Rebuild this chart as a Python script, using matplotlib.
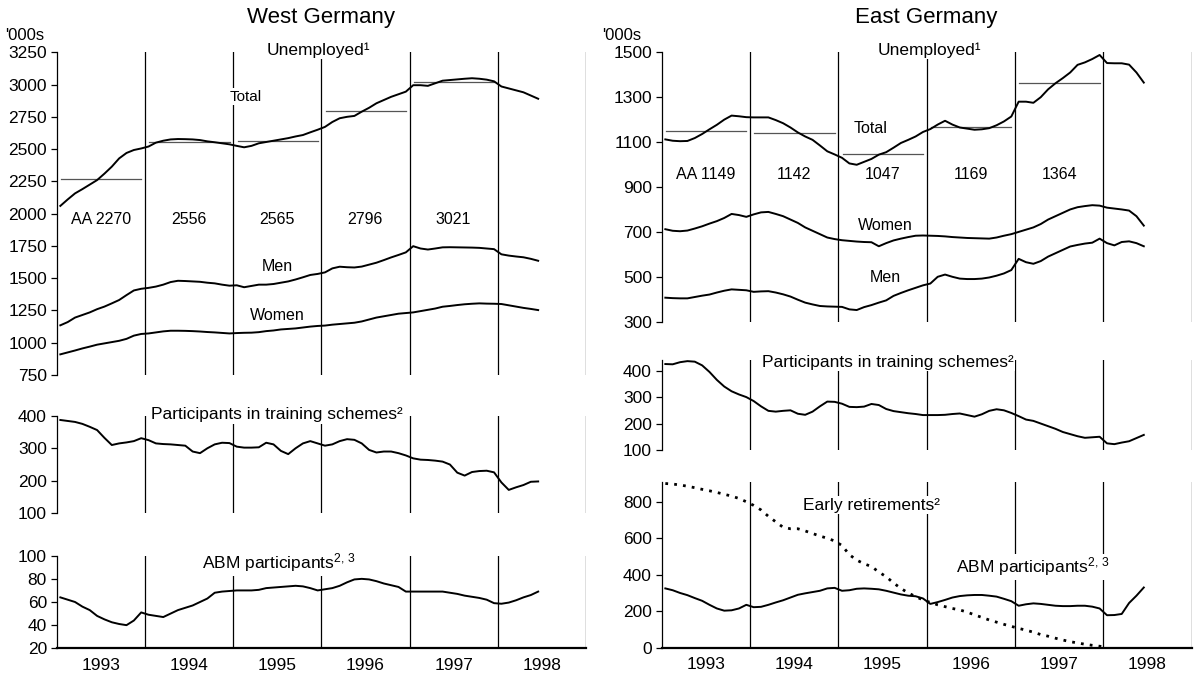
import matplotlib.pyplot as plt
import numpy as np

plt.rcParams['font.family'] = ['Liberation Sans', 'DejaVu Sans']
plt.rcParams['mathtext.fontset'] = 'custom'
plt.rcParams['mathtext.rm'] = 'Liberation Sans'
plt.rcParams['mathtext.it'] = 'Liberation Sans'

# month index 0 = January 1993, 65 = June 1998
months = np.arange(66)
years = [1993, 1994, 1995, 1996, 1997, 1998]
aa_years = [1993, 1994, 1995, 1996, 1997]
aa_west = [2270, 2556, 2565, 2796, 3021]
aa_east = [1149, 1142, 1047, 1169, 1364]

west_total = [2060, 2110, 2157, 2190, 2225, 2260, 2310, 2364, 2428, 2470, 2493, 2505,
              2520, 2550, 2565, 2575, 2578, 2577, 2575, 2570, 2560, 2553, 2545, 2537,
              2525, 2514, 2525, 2545, 2555, 2565, 2575, 2585, 2598, 2609, 2630, 2650,
              2672, 2710, 2739, 2750, 2757, 2790, 2820, 2855, 2880, 2905, 2925, 2945,
              2995, 2995, 2990, 3010, 3030, 3035, 3040, 3045, 3049, 3045, 3038, 3025,
              2985, 2970, 2955, 2940, 2915, 2890]
west_men = [1135, 1160, 1195, 1215, 1235, 1260, 1280, 1305, 1331, 1369, 1405, 1418,
            1425, 1435, 1450, 1470, 1480, 1478, 1475, 1472, 1465, 1460, 1450, 1442,
            1445, 1430, 1440, 1450, 1450, 1455, 1465, 1475, 1490, 1507, 1525, 1533,
            1545, 1576, 1589, 1585, 1583, 1590, 1605, 1620, 1640, 1661, 1680, 1700,
            1748, 1730, 1722, 1730, 1739, 1740, 1739, 1738, 1737, 1735, 1730, 1725,
            1685, 1675, 1668, 1662, 1650, 1635]
west_women = [910, 925, 940, 956, 970, 985, 995, 1005, 1015, 1030, 1055, 1068,
              1072, 1080, 1088, 1093, 1093, 1092, 1090, 1087, 1083, 1080, 1076, 1072,
              1075, 1077, 1078, 1082, 1090, 1095, 1103, 1107, 1111, 1118, 1125, 1130,
              1133, 1140, 1145, 1150, 1155, 1165, 1180, 1195, 1205, 1215, 1225, 1230,
              1235, 1245, 1255, 1265, 1279, 1285, 1292, 1298, 1302, 1305, 1303, 1302,
              1300, 1290, 1280, 1270, 1262, 1253]
west_training = [387, 384, 381, 375, 366, 356, 332, 310, 315, 318, 322, 331,
                 325, 315, 313, 312, 310, 308, 290, 285, 300, 312, 317, 316,
                 305, 302, 302, 303, 317, 312, 292, 282, 300, 315, 322, 315,
                 308, 312, 322, 328, 326, 315, 295, 287, 290, 290, 285, 278,
                 269, 265, 264, 262, 259, 250, 225, 216, 227, 230, 231, 226,
                 195, 172, 180, 187, 197, 198]
west_abm = [64, 62, 60, 56, 53, 48, 45, 42.5, 41, 40, 44, 51,
            49, 48, 47, 50, 53, 55, 57, 60, 63, 68, 69, 69.5,
            70, 70, 70, 70.5, 72, 72.5, 73, 73.5, 74, 73.5, 72, 70,
            71, 72, 74, 77, 79.5, 80, 79.5, 78, 76, 74.5, 73, 69,
            69, 69, 69, 69, 69, 68, 67, 65.5, 64.5, 63.5, 62, 59,
            58.5, 59.5, 61.5, 64, 66, 69]

east_total = [1112, 1106, 1104, 1105, 1118, 1136, 1157, 1177, 1200, 1218, 1215, 1211,
              1210, 1210, 1210, 1198, 1184, 1165, 1143, 1125, 1110, 1085, 1059, 1045,
              1030, 1005, 999, 1012, 1025, 1044, 1055, 1075, 1096, 1110, 1125, 1145,
              1158, 1178, 1195, 1178, 1165, 1160, 1155, 1157, 1162, 1175, 1192, 1214,
              1280, 1280, 1275, 1300, 1335, 1362, 1385, 1410, 1444, 1455, 1470, 1488,
              1452, 1451, 1451, 1445, 1410, 1365]
east_women = [712, 705, 703, 706, 715, 725, 737, 748, 762, 780, 775, 767,
              778, 787, 789, 780, 770, 755, 740, 720, 705, 690, 675, 668,
              663, 660, 657, 655, 654, 636, 650, 662, 670, 677, 683, 684,
              683, 682, 680, 677, 675, 673, 672, 671, 670, 675, 683, 690,
              700, 710, 720, 735, 755, 770, 785, 800, 810, 815, 819, 817,
              808, 804, 800, 795, 770, 728]
east_men = [407, 405, 404, 404, 410, 416, 421, 430, 438, 444, 442, 440,
            433, 435, 436, 430, 422, 412, 398, 385, 377, 370, 368, 367,
            366, 355, 352, 365, 374, 385, 395, 415, 428, 440, 451, 462,
            470, 500, 510, 500, 492, 490, 490, 492, 497, 505, 515, 530,
            580, 565, 558, 570, 590, 605, 620, 635, 642, 648, 652, 670,
            650, 640, 655, 658, 650, 636]
east_training = [425, 424, 432, 436, 434, 420, 395, 365, 340, 322, 310, 300,
                 285, 265, 248, 245, 248, 250, 237, 233, 245, 265, 283, 282,
                 275, 263, 262, 264, 274, 270, 255, 247, 243, 239, 236, 232,
                 232, 232, 233, 236, 238, 232, 226, 235, 248, 254, 250, 240,
                 228, 215, 210, 200, 190, 180, 168, 160, 152, 146, 148, 150,
                 125, 122, 128, 133, 145, 157]
east_early = [900, 897, 892, 885, 877, 868, 860, 851, 841, 831, 818, 800,
              780, 755, 720, 690, 660, 652, 652, 640, 626, 612, 600, 585,
              560, 510, 480, 460, 445, 415, 389, 355, 325, 300, 280, 262,
              248, 235, 225, 215, 207, 195, 180, 166, 152, 140, 128, 117,
              106, 96, 85, 72, 63, 52, 42, 33, 26, 19, 13, 8, 3]
east_abm = [325, 315, 300, 288, 272, 257, 235, 215, 203, 205, 215, 235,
            222, 224, 235, 248, 260, 275, 290, 298, 305, 312, 325, 328,
            312, 315, 323, 325, 323, 320, 312, 302, 292, 285, 282, 270,
            240, 250, 262, 275, 283, 287, 289, 289, 285, 280, 268, 255,
            230, 238, 243, 240, 235, 230, 228, 228, 230, 230, 225, 215,
            178, 179, 185, 245, 285, 330]

t = 1993 + (months + 0.5) / 12
FS = 12.5
box = dict(facecolor='white', edgecolor='none', pad=1.0)

fig = plt.figure(figsize=(11.98, 6.79), dpi=100)


def frame(ax, lo, hi, ticks, bottom=False):
    ax.set_xlim(1993, 1999)
    ax.set_ylim(lo, hi)
    ax.set_yticks(ticks)
    ax.spines['top'].set_visible(False)
    ax.spines['right'].set_visible(False)
    ax.spines['bottom'].set_visible(bottom)
    ax.spines['left'].set_linewidth(0.9)
    ax.spines['bottom'].set_linewidth(1.6)
    ax.set_xticks([])
    for yr in range(1994, 2000):
        ax.axvline(yr, color='black', lw=0.9, zorder=1)
    ax.tick_params(axis='y', length=4, width=0.9, pad=3, labelsize=FS)
    if bottom:
        ax.set_xticks([y + 0.5 for y in years], [str(y) for y in years], minor=True)
        ax.tick_params(axis='x', which='minor', length=0, pad=7, labelsize=FS)


def curve(ax, y, **kw):
    ax.plot(t[:len(y)], y, color='black', lw=1.4, zorder=3, **kw)


def label(ax, x, y, s, size=FS):
    ax.text(x, y, s, ha='center', va='center', fontsize=size, bbox=box, zorder=2)


def averages(ax, vals, y, size):
    for yr, v in zip(aa_years, vals):
        ax.plot([yr + 0.05, yr + 0.96], [v, v], color='#555555', lw=0.9, zorder=2)
        txt = ('AA %d' % v) if yr == 1993 else str(v)
        ax.text(yr + 0.5, y, txt, ha='center', va='center', fontsize=size)


# ---- West Germany ----
wl, ww = 0.0473, 0.4418
ax = fig.add_axes([wl, 0.4477, ww, 0.4753])
frame(ax, 750, 3250, np.arange(750, 3251, 250))
curve(ax, west_total)
curve(ax, west_men)
curve(ax, west_women)
averages(ax, aa_west, 1958, 11.5)
label(ax, 1995.97, 3265, 'Unemployed¹')
label(ax, 1995.14, 2906, 'Total', 11)
label(ax, 1995.5, 1592, 'Men', 11.5)
label(ax, 1995.5, 1214, 'Women', 11.5)

ax = fig.add_axes([wl, 0.244, ww, 0.1437])
frame(ax, 100, 400, [100, 200, 300, 400])
curve(ax, west_training)
label(ax, 1995.5, 403, 'Participants in training schemes²')

ax = fig.add_axes([wl, 0.0452, ww, 0.1364])
frame(ax, 20, 100, [20, 40, 60, 80, 100], bottom=True)
curve(ax, west_abm)
label(ax, 1995.52, 93.7, r'ABM participants$^{2,\,3}$')

# ---- East Germany ----
el, ew = 0.5523, 0.4424
ax = fig.add_axes([el, 0.5262, ew, 0.3968])
frame(ax, 300, 1500, np.arange(300, 1501, 200))
curve(ax, east_total)
curve(ax, east_women)
curve(ax, east_men)
averages(ax, aa_east, 955, 11.5)
label(ax, 1996.03, 1510, 'Unemployed¹')
label(ax, 1995.36, 1162, 'Total', 11.5)
label(ax, 1995.53, 728, 'Women', 11.5)
label(ax, 1995.53, 497, 'Men', 11.5)

ax = fig.add_axes([el, 0.3373, ew, 0.1324])
frame(ax, 100, 440, [100, 200, 300, 400])
curve(ax, east_training)
label(ax, 1995.56, 432, 'Participants in training schemes²')

ax = fig.add_axes([el, 0.0461, ew, 0.2445])
frame(ax, 0, 910, [0, 200, 400, 600, 800], bottom=True)
ax.plot(t[:len(east_early)], east_early, color='black', lw=2.0,
        linestyle=(0, (1, 2.2)), zorder=3)
curve(ax, east_abm)
label(ax, 1995.37, 782, 'Early retirements²')
label(ax, 1997.2, 444, r'ABM participants$^{2,\,3}$')

# titles and unit notes
fig.text(wl + ww / 2, 0.9735, 'West Germany', ha='center', va='center', fontsize=16)
fig.text(el + ew / 2, 0.9735, 'East Germany', ha='center', va='center', fontsize=16)
fig.text(0.004, 0.948, "'000s", ha='left', va='center', fontsize=12)
fig.text(0.503, 0.948, "'000s", ha='left', va='center', fontsize=12)

fig.savefig('out.png', dpi=100)
